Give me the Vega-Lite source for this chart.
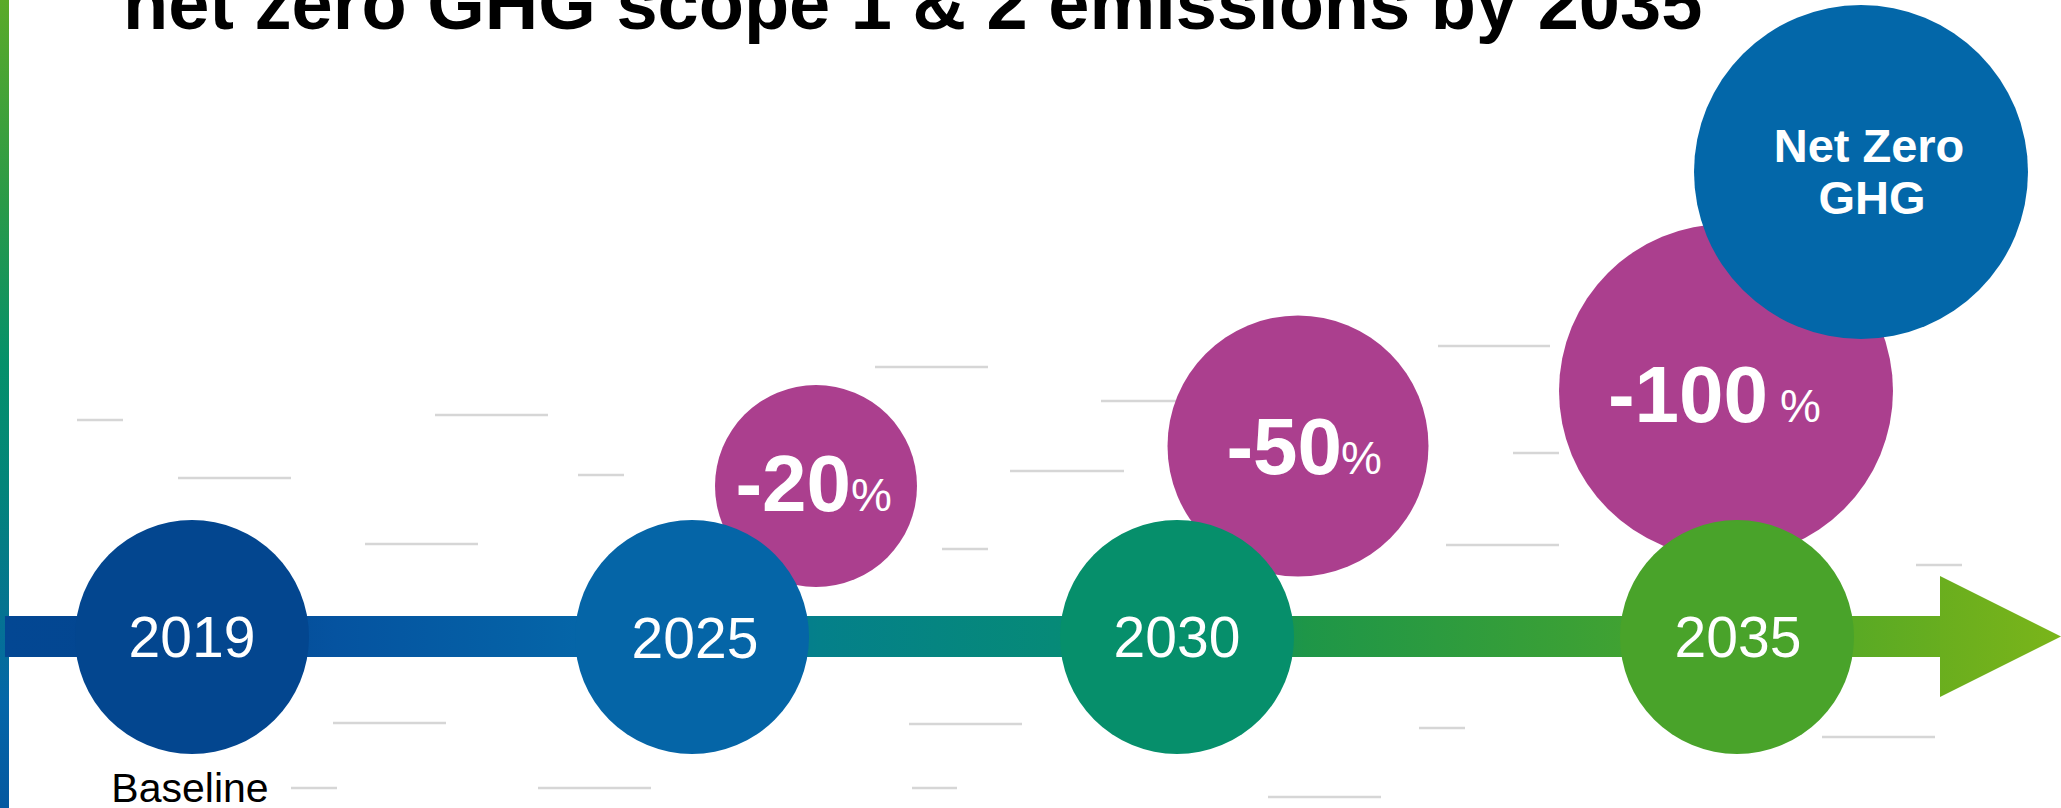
{
  "$schema": "https://vega.github.io/schema/vega-lite/v6.json",
  "width": 2061,
  "height": 808,
  "padding": 0,
  "autosize": {"type": "none"},
  "background": "white",
  "config": {"view": {"stroke": null}, "font": "Liberation Sans"},
  "datasets": {
    "leftbar": [{"x": 0, "x2": 9, "y": 0, "y2": 808}],
    "bar": [{"x": 5, "x2": 1945, "y": 616, "y2": 657}],
    "arrow": [{"x": 2000.5, "y": 636.5, "d": 121}],
    "dashes": [
      {"x": 77, "x2": 123, "y": 420},
      {"x": 435, "x2": 548, "y": 415},
      {"x": 178, "x2": 291, "y": 478},
      {"x": 578, "x2": 624, "y": 475},
      {"x": 1010, "x2": 1124, "y": 471},
      {"x": 365, "x2": 478, "y": 544},
      {"x": 942, "x2": 988, "y": 549},
      {"x": 333, "x2": 446, "y": 723},
      {"x": 909, "x2": 1022, "y": 724},
      {"x": 291, "x2": 337, "y": 788},
      {"x": 538, "x2": 651, "y": 788},
      {"x": 912, "x2": 957, "y": 788},
      {"x": 875, "x2": 988, "y": 367},
      {"x": 1101, "x2": 1214, "y": 401},
      {"x": 1438, "x2": 1550, "y": 346},
      {"x": 1513, "x2": 1559, "y": 453},
      {"x": 1446, "x2": 1559, "y": 545},
      {"x": 1916, "x2": 1962, "y": 565},
      {"x": 1419, "x2": 1465, "y": 728},
      {"x": 1822, "x2": 1935, "y": 737},
      {"x": 1268, "x2": 1381, "y": 797}
    ],
    "circles": [
      {"id": "-20%", "x": 816, "y": 486, "d": 202},
      {"id": "-50%", "x": 1298, "y": 446, "d": 261},
      {"id": "-100%", "x": 1726, "y": 391, "d": 334},
      {"id": "Net Zero GHG", "x": 1861, "y": 172, "d": 334},
      {"id": "2019", "x": 192, "y": 637, "d": 234},
      {"id": "2025", "x": 692, "y": 637, "d": 234},
      {"id": "2030", "x": 1177, "y": 637, "d": 234},
      {"id": "2035", "x": 1737, "y": 637, "d": 234}
    ],
    "labels": [
      {"role": "title", "x": 123, "y": 29, "text": "net zero GHG scope 1 & 2 emissions by 2035"},
      {"role": "year", "x": 192, "y": 657, "text": "2019"},
      {"role": "year", "x": 695, "y": 658, "text": "2025"},
      {"role": "year", "x": 1177, "y": 657, "text": "2030"},
      {"role": "year", "x": 1738, "y": 657, "text": "2035"},
      {"role": "note", "x": 190, "y": 802, "text": "Baseline"},
      {"role": "pctnum", "x": 851, "y": 511, "text": "-20"},
      {"role": "pctnum", "x": 1342, "y": 474, "text": "-50"},
      {"role": "pctnum", "x": 1768, "y": 422, "text": "-100"},
      {"role": "pctsym", "x": 851, "y": 511, "text": "%"},
      {"role": "pctsym", "x": 1341, "y": 474, "text": "%"},
      {"role": "pctsym", "x": 1780, "y": 422, "text": "%"},
      {"role": "nz", "x": 1869, "y": 162, "text": "Net Zero"},
      {"role": "nz", "x": 1872, "y": 214, "text": "GHG"}
    ]
  },
  "layer": [
    {
      "data": {"name": "leftbar"},
      "mark": {
        "type": "rect",
        "fill": {
          "gradient": "linear", "x1": 0, "y1": 0, "x2": 0, "y2": 1,
          "stops": [
            {"offset": 0, "color": "#5aaa28"},
            {"offset": 0.25, "color": "#2a9a48"},
            {"offset": 0.45, "color": "#05906a"},
            {"offset": 0.6, "color": "#03857a"},
            {"offset": 0.75, "color": "#057490"},
            {"offset": 0.87, "color": "#0466a8"},
            {"offset": 1, "color": "#0458a0"}
          ]
        }
      },
      "encoding": {
        "x": {"field": "x", "type": "quantitative", "scale": {"domain": [0, 2061], "nice": false, "zero": false}, "axis": null},
        "x2": {"field": "x2"},
        "y": {"field": "y", "type": "quantitative", "scale": {"domain": [0, 808], "nice": false, "zero": false, "reverse": true}, "axis": null},
        "y2": {"field": "y2"}
      }
    },
    {
      "data": {"name": "dashes"},
      "mark": {"type": "rule", "color": "#d6d6d6", "strokeWidth": 2.5},
      "encoding": {
        "x": {"field": "x", "type": "quantitative"},
        "x2": {"field": "x2"},
        "y": {"field": "y", "type": "quantitative"}
      }
    },
    {
      "data": {"name": "bar"},
      "mark": {
        "type": "rect",
        "fill": {
          "gradient": "linear", "x1": 0, "y1": 0, "x2": 1, "y2": 0,
          "stops": [
            {"offset": 0, "color": "#034793"},
            {"offset": 0.1, "color": "#03468f"},
            {"offset": 0.17, "color": "#0553a0"},
            {"offset": 0.3, "color": "#0566a8"},
            {"offset": 0.42, "color": "#04808a"},
            {"offset": 0.54, "color": "#068a78"},
            {"offset": 0.62, "color": "#078d6c"},
            {"offset": 0.67, "color": "#1e9648"},
            {"offset": 0.835, "color": "#40a232"},
            {"offset": 0.955, "color": "#5aaa24"},
            {"offset": 1, "color": "#68ae1f"}
          ]
        }
      },
      "encoding": {
        "x": {"field": "x", "type": "quantitative"},
        "x2": {"field": "x2"},
        "y": {"field": "y", "type": "quantitative"},
        "y2": {"field": "y2"}
      }
    },
    {
      "data": {"name": "arrow"},
      "mark": {
        "type": "point",
        "shape": "M-1,-1L1,0L-1,1Z",
        "filled": true,
        "opacity": 1,
        "fill": {
          "gradient": "linear", "x1": 0, "y1": 0, "x2": 1, "y2": 0,
          "stops": [
            {"offset": 0, "color": "#6aae1e"},
            {"offset": 1, "color": "#7ab51a"}
          ]
        }
      },
      "encoding": {
        "x": {"field": "x", "type": "quantitative"},
        "y": {"field": "y", "type": "quantitative"},
        "size": {"field": "d", "type": "quantitative", "scale": {"type": "pow", "exponent": 2, "domain": [0, 1000], "range": [0, 1000000], "zero": true}, "legend": null}
      }
    },
    {
      "data": {"name": "circles"},
      "mark": {"type": "point", "shape": "circle", "filled": true, "opacity": 1, "strokeWidth": 0},
      "encoding": {
        "x": {"field": "x", "type": "quantitative"},
        "y": {"field": "y", "type": "quantitative"},
        "size": {"field": "d", "type": "quantitative", "legend": null},
        "color": {
          "field": "id", "type": "nominal", "legend": null,
          "scale": {
            "domain": ["-20%", "-50%", "-100%", "Net Zero GHG", "2019", "2025", "2030", "2035"],
            "range": ["#ab3f8e", "#ab3f8e", "#ab3f8e", "#0367a9", "#03468f", "#0565a7", "#068f6b", "#49a32a"]
          }
        }
      }
    },
    {
      "data": {"name": "labels"},
      "transform": [{"filter": "datum.role === 'title'"}],
      "mark": {"type": "text", "font": "Liberation Sans", "fontWeight": "bold", "fontSize": 74, "align": "left", "baseline": "alphabetic", "color": "#000000"},
      "encoding": {
        "x": {"field": "x", "type": "quantitative"},
        "y": {"field": "y", "type": "quantitative"},
        "text": {"field": "text"}
      }
    },
    {
      "data": {"name": "labels"},
      "transform": [{"filter": "datum.role === 'year'"}],
      "mark": {"type": "text", "font": "Liberation Sans", "fontSize": 57, "align": "center", "baseline": "alphabetic", "color": "#ffffff"},
      "encoding": {
        "x": {"field": "x", "type": "quantitative"},
        "y": {"field": "y", "type": "quantitative"},
        "text": {"field": "text"}
      }
    },
    {
      "data": {"name": "labels"},
      "transform": [{"filter": "datum.role === 'note'"}],
      "mark": {"type": "text", "font": "Liberation Sans", "fontSize": 41, "align": "center", "baseline": "alphabetic", "color": "#000000"},
      "encoding": {
        "x": {"field": "x", "type": "quantitative"},
        "y": {"field": "y", "type": "quantitative"},
        "text": {"field": "text"}
      }
    },
    {
      "data": {"name": "labels"},
      "transform": [{"filter": "datum.role === 'pctnum'"}],
      "mark": {"type": "text", "font": "Liberation Sans", "fontWeight": "bold", "fontSize": 80, "align": "right", "baseline": "alphabetic", "color": "#ffffff"},
      "encoding": {
        "x": {"field": "x", "type": "quantitative"},
        "y": {"field": "y", "type": "quantitative"},
        "text": {"field": "text"}
      }
    },
    {
      "data": {"name": "labels"},
      "transform": [{"filter": "datum.role === 'pctsym'"}],
      "mark": {"type": "text", "font": "Liberation Sans", "fontSize": 46, "align": "left", "baseline": "alphabetic", "color": "#ffffff"},
      "encoding": {
        "x": {"field": "x", "type": "quantitative"},
        "y": {"field": "y", "type": "quantitative"},
        "text": {"field": "text"}
      }
    },
    {
      "data": {"name": "labels"},
      "transform": [{"filter": "datum.role === 'nz'"}],
      "mark": {"type": "text", "font": "Liberation Sans", "fontWeight": "bold", "fontSize": 47, "align": "center", "baseline": "alphabetic", "color": "#ffffff"},
      "encoding": {
        "x": {"field": "x", "type": "quantitative"},
        "y": {"field": "y", "type": "quantitative"},
        "text": {"field": "text"}
      }
    }
  ]
}
